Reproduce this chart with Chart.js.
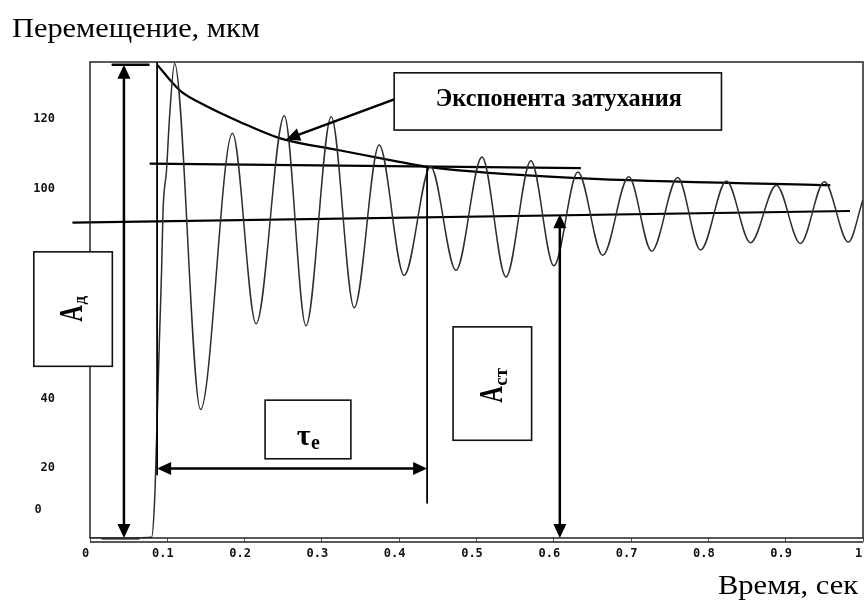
<!DOCTYPE html>
<html>
<head>
<meta charset="utf-8">
<script src="https://cdn.jsdelivr.net/npm/chart.js@4.4.1/dist/chart.umd.min.js"></script>
<style>
  html, body { margin: 0; padding: 0; background: #fff; }
  #wrap { width: 864px; height: 604px; position: relative; }
</style>
</head>
<body>
<div id="wrap"><canvas id="c" width="864" height="604"></canvas></div>
<script>
// Recorded displacement of the sample: time, s  and  displacement, µm (extrema and the rising front)
const signalTime = [0, 0.05, 0.0797, 0.0836, 0.0861, 0.0894, 0.0926, 0.0945, 0.0990, 0.1029, 0.1094,
  0.1430, 0.1843, 0.2149, 0.2514, 0.2794, 0.3121, 0.3418, 0.3741, 0.4064, 0.4406,
  0.4735, 0.5071, 0.5381, 0.5704, 0.6001, 0.6311, 0.6633, 0.6970, 0.7266, 0.7603,
  0.7899, 0.8234, 0.8545, 0.8880, 0.9190, 0.9500, 0.9810, 1.0];
const signalValue = [0, 0, 0.2, 10.8, 28.0, 53.8, 76.7, 93.9, 105.4, 120.6, 136.0,
  36.8, 116.0, 61.4, 121.0, 60.8, 120.7, 66.0, 112.6, 75.3, 106.4,
  76.7, 109.2, 74.8, 108.1, 78.0, 104.9, 81.0, 103.5, 82.2, 103.3,
  82.5, 102.3, 84.6, 101.1, 84.4, 102.1, 84.8, 97.0];

// Decay envelope drawn over the peaks
const envelopeTime  = [0.0874, 0.1072, 0.1180, 0.1503, 0.1933, 0.2450, 0.3224, 0.4000, 0.4387, 0.6324, 0.9577];
const envelopeValue = [135.5, 130.3, 127.9, 123.8, 119.3, 114.6, 111.1, 107.8, 106.3, 103.1, 101.1];

// Straight guide lines: level of the first settled peak and static level
const upperLineTime  = [0.0772, 0.6350];
const upperLineValue = [107.3, 106.0];
const lowerLineTime  = [-0.0227, 0.9832];
const lowerLineValue = [90.4, 93.7];

// Axes
const xTicks = [0, 0.1, 0.2, 0.3, 0.4, 0.5, 0.6, 0.7, 0.8, 0.9, 1];
const xTickLabels = ['0', '0.1', '0.2', '0.3', '0.4', '0.5', '0.6', '0.7', '0.8', '0.9', '1'];
const yTicks = [0, 20, 40, 60, 80, 100, 120];
const yTickLabels = ['0', '20', '40', '60', '80', '100', '120'];

// Measured quantities (time, s / displacement, µm)
const dynAmplitude = 135.6;       // Aд
const staticAmplitude = 92.8;     // Aст
const staticTime = 0.6078;
const dynTime = 0.0439;
const tauStart = 0.0868;
const tauEnd = 0.4361;
const tauLevel = 19.9;

const toPoints = (ts, vs) => ts.map((t, i) => ({ x: t, y: vs[i] }));

const tickFont = { family: 'DejaVu Sans Mono', size: 12, weight: 'bold' };
const serif = 'Liberation Serif, Times New Roman, serif';

// arrow / marker geometry, in axis units
const arrows = [
  { from: [dynTime, 0], to: [dynTime, dynAmplitude], both: true },
  { from: [staticTime, 0], to: [staticTime, staticAmplitude], both: true },
  { from: [tauStart, tauLevel], to: [tauEnd, tauLevel], both: true },
  { from: [0.3935, 125.7], to: [0.2536, 114.2], both: false }
];
const segments = [
  { from: [0.028, dynAmplitude], to: [0.077, dynAmplitude], w: 2.5 },
  { from: [0.015, -0.3], to: [0.064, -0.3], w: 1 },
  { from: [tauStart, 136.4], to: [tauStart, 18], w: 1.8 },
  { from: [tauEnd, 106.6], to: [tauEnd, 9.9], w: 1.8 }
];
const boxes = [
  { t0: 0.3935, t1: 0.8169, v0: 133.3, v1: 116.9, kind: 'exp' },
  { t0: -0.0727, t1: 0.0289, v0: 82.0, v1: 49.2, kind: 'Ad' },
  { t0: 0.4697, t1: 0.5713, v0: 60.5, v1: 28.0, kind: 'Ast' },
  { t0: 0.2265, t1: 0.3375, v0: 39.5, v1: 22.7, kind: 'tau' }
];

function arrowHead(ctx, tipX, tipY, fromX, fromY, len, wid) {
  const a = Math.atan2(tipY - fromY, tipX - fromX);
  ctx.beginPath();
  ctx.moveTo(tipX, tipY);
  ctx.lineTo(tipX - len * Math.cos(a) + wid / 2 * Math.sin(a), tipY - len * Math.sin(a) - wid / 2 * Math.cos(a));
  ctx.lineTo(tipX - len * Math.cos(a) - wid / 2 * Math.sin(a), tipY - len * Math.sin(a) + wid / 2 * Math.cos(a));
  ctx.closePath();
  ctx.fill();
}

function fitText(ctx, str, x, y, font, width, align) {
  ctx.save();
  ctx.font = font;
  const w = ctx.measureText(str).width;
  const sx = width / w;
  const left = align === 'center' ? x - width / 2 : x;
  ctx.translate(left, y);
  ctx.scale(sx, 1);
  ctx.textAlign = 'left';
  ctx.textBaseline = 'alphabetic';
  ctx.fillText(str, 0, 0);
  ctx.restore();
}

function rotatedLabel(ctx, cx, cy, main, sub, mainFont, mainSy, subFont, subShift) {
  ctx.font = mainFont;
  const wm = ctx.measureText(main).width;
  ctx.font = subFont;
  const ws = ctx.measureText(sub).width;
  const startY = cy + (wm + ws) / 2;
  const baseX = cx + 9.3;
  ctx.save();
  ctx.translate(baseX, startY);
  ctx.rotate(-Math.PI / 2);
  ctx.scale(1, mainSy);
  ctx.font = mainFont;
  ctx.textAlign = 'left';
  ctx.textBaseline = 'alphabetic';
  ctx.fillText(main, 0, 0);
  ctx.restore();
  ctx.save();
  ctx.translate(baseX + subShift, startY - wm - 0.5);
  ctx.rotate(-Math.PI / 2);
  ctx.font = subFont;
  ctx.textAlign = 'left';
  ctx.textBaseline = 'alphabetic';
  ctx.fillText(sub, 0, 0);
  ctx.restore();
}

const annotate = {
  id: 'annotate',
  afterDraw(chart) {
    const { ctx, chartArea: ca } = chart;
    const xs = chart.scales.x, ys = chart.scales.y;
    const px = t => xs.getPixelForValue(t);
    const py = v => ys.getPixelForValue(v);

    ctx.save();
    // plot frame and the axis line just below it
    ctx.strokeStyle = '#222';
    ctx.lineWidth = 1.5;
    ctx.strokeRect(ca.left, ca.top, ca.right - ca.left, ca.bottom - ca.top);
    ctx.beginPath();
    ctx.moveTo(ca.left, ca.bottom + 4);
    ctx.lineTo(ca.right, ca.bottom + 4);
    ctx.stroke();

    // zero label of the displacement axis
    ctx.fillStyle = '#222';
    ctx.font = 'bold 12px DejaVu Sans Mono';
    ctx.textAlign = 'center';
    ctx.textBaseline = 'middle';
    ctx.fillText(yTickLabels[0], ca.left - 52, py(0) - 28);

    // marker segments
    ctx.strokeStyle = '#000';
    ctx.fillStyle = '#000';
    ctx.lineCap = 'butt';
    segments.forEach(s => {
      ctx.lineWidth = s.w;
      ctx.beginPath();
      ctx.moveTo(px(s.from[0]), py(s.from[1]));
      ctx.lineTo(px(s.to[0]), py(s.to[1]));
      ctx.stroke();
    });

    // arrows
    const HL = 14, HW = 13;
    arrows.forEach(a => {
      const x1 = px(a.from[0]), y1 = py(a.from[1]);
      const x2 = px(a.to[0]), y2 = py(a.to[1]);
      const len = Math.hypot(x2 - x1, y2 - y1);
      const ux = (x2 - x1) / len, uy = (y2 - y1) / len;
      const sx = a.both ? x1 + ux * (HL - 1) : x1;
      const sy = a.both ? y1 + uy * (HL - 1) : y1;
      ctx.lineWidth = 2.5;
      ctx.beginPath();
      ctx.moveTo(sx, sy);
      ctx.lineTo(x2 - ux * (HL - 1), y2 - uy * (HL - 1));
      ctx.stroke();
      arrowHead(ctx, x2, y2, x1, y1, HL, HW);
      if (a.both) arrowHead(ctx, x1, y1, x2, y2, HL, HW);
    });

    // label boxes
    boxes.forEach(b => {
      const l = px(b.t0), r = px(b.t1), t = py(b.v0), bt = py(b.v1);
      ctx.fillStyle = '#fff';
      ctx.fillRect(l, t, r - l, bt - t);
      ctx.strokeStyle = '#111';
      ctx.lineWidth = 1.6;
      ctx.strokeRect(l, t, r - l, bt - t);
      const cx = (l + r) / 2, cy = (t + bt) / 2;
      ctx.fillStyle = '#000';
      if (b.kind === 'exp') {
        fitText(ctx, 'Экспонента затухания', cx + 1, cy + 5, 'bold 26px ' + serif, 246, 'center');
      } else if (b.kind === 'Ad') {
        rotatedLabel(ctx, cx, cy, 'A', 'д', 'bold 23px ' + serif, 1.45, 'bold 17px ' + serif, 3);
      } else if (b.kind === 'Ast') {
        rotatedLabel(ctx, cx, cy + 2, 'A', 'ст', 'bold 23px ' + serif, 1.45, 'bold 19px ' + serif, 5.3);
      } else if (b.kind === 'tau') {
        ctx.font = 'bold 30px ' + serif;
        const wt = ctx.measureText('τ').width;
        ctx.font = 'bold 20px ' + serif;
        const we = ctx.measureText('e').width;
        const left = cx - (wt + we) / 2;
        ctx.textAlign = 'left';
        ctx.textBaseline = 'alphabetic';
        ctx.font = 'bold 30px ' + serif;
        ctx.fillText('τ', left, cy + 16);
        ctx.font = 'bold 20px ' + serif;
        ctx.fillText('e', left + wt + 0.5, cy + 20);
      }
    });

    // axis titles
    ctx.fillStyle = '#000';
    fitText(ctx, 'Перемещение, мкм', 12, 37.3, '28px ' + serif, 248, 'left');
    fitText(ctx, 'Время, сек', 718, 594, '27px ' + serif, 140, 'left');
    ctx.restore();
  }
};

new Chart(document.getElementById('c'), {
  type: 'line',
  data: {
    datasets: [
      {
        data: toPoints(signalTime, signalValue),
        borderColor: '#2e2e2e', borderWidth: 1.5,
        cubicInterpolationMode: 'monotone', pointRadius: 0
      },
      {
        data: toPoints(envelopeTime, envelopeValue),
        borderColor: '#000', borderWidth: 2.2,
        cubicInterpolationMode: 'monotone', pointRadius: 0
      },
      {
        data: toPoints(upperLineTime, upperLineValue),
        borderColor: '#000', borderWidth: 2.2, pointRadius: 0
      },
      {
        data: toPoints(lowerLineTime, lowerLineValue),
        borderColor: '#000', borderWidth: 2.2, pointRadius: 0, clip: false
      }
    ]
  },
  options: {
    responsive: false,
    animation: false,
    devicePixelRatio: 1,
    layout: { padding: { top: 62, right: 1, left: 0, bottom: 0 } },
    plugins: { legend: { display: false }, tooltip: { enabled: false } },
    scales: {
      x: {
        type: 'linear', min: 0, max: 1,
        afterBuildTicks: s => { s.ticks = xTicks.map(v => ({ value: v })); },
        afterFit: s => { s.height = 66; s.paddingLeft = 0; s.paddingRight = 0; },
        ticks: {
          callback: (v, i) => xTickLabels[i],
          font: tickFont, color: '#111', padding: 5, labelOffset: -4.5,
          maxRotation: 0, autoSkip: false
        },
        grid: { drawOnChartArea: false, drawTicks: true, tickLength: 4, color: '#555', lineWidth: 1 },
        border: { display: false }
      },
      y: {
        type: 'linear', min: 0, max: 136.4,
        afterBuildTicks: s => { s.ticks = yTicks.map(v => ({ value: v })); },
        afterFit: s => { s.width = 90; },
        ticks: {
          callback: (v, i) => (i === 0 ? '' : yTickLabels[i]),
          font: { family: 'DejaVu Sans Mono', size: 12, weight: 'bold' },
          color: '#111', padding: 35, autoSkip: false
        },
        grid: { display: false, drawTicks: false, tickLength: 0 },
        border: { display: false }
      }
    }
  },
  plugins: [annotate]
});
</script>
</body>
</html>
